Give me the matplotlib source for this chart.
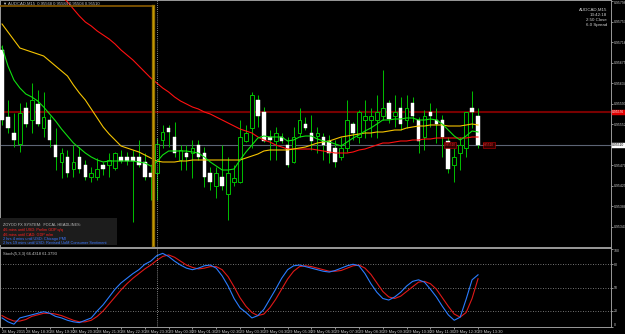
import numpy as np
import matplotlib
matplotlib.use("Agg")
import matplotlib.pyplot as plt
import matplotlib.transforms as mtransforms
from matplotlib.patches import Rectangle

plt.rcParams['font.family'] = ['Liberation Sans', 'DejaVu Sans']

# ---------------- data ----------------
symbol = "AUDCAD,M15"
opens = [0.95700,0.95566,0.95534,0.95512,0.95584,0.95560,0.95592,0.95544,0.95560,0.95510,
         0.95476,0.95486,0.95462,0.95486,0.95470,0.95446,0.95446,0.95470,0.95470,0.95464,
         0.95486,0.95486,0.95486,0.95486,0.95476,0.95454,0.95454,0.95520,0.95544,0.95526,
         0.95480,0.95494,0.95494,0.95510,0.95494,0.95454,0.95428,0.95446,0.95412,0.95436,
         0.95436,0.95518,0.95544,0.95600,0.95576,0.95526,0.95518,0.95526,0.95510,0.95476,
         0.95534,0.95552,0.95534,0.95528,0.95526,0.95518,0.95504,0.95486,0.95504,0.95552,
         0.95526,0.95560,0.95560,0.95560,0.95568,0.95594,0.95568,0.95584,0.95560,0.95594,
         0.95560,0.95526,0.95576,0.95560,0.95560,0.95518,0.95470,0.95494,0.95504,0.95584,
         0.95568]
highs = [0.95710,0.95600,0.95574,0.95594,0.95596,0.95634,0.95620,0.95616,0.95568,0.95544,
         0.95504,0.95500,0.95510,0.95506,0.95480,0.95466,0.95484,0.95476,0.95494,0.95496,
         0.95500,0.95496,0.95500,0.95520,0.95494,0.95470,0.95524,0.95550,0.95550,0.95556,
         0.95510,0.95510,0.95520,0.95520,0.95506,0.95466,0.95466,0.95510,0.95486,0.95470,
         0.95560,0.95550,0.95616,0.95610,0.95586,0.95540,0.95546,0.95534,0.95526,0.95546,
         0.95584,0.95566,0.95570,0.95546,0.95534,0.95530,0.95520,0.95526,0.95600,0.95556,
         0.95580,0.95600,0.95584,0.95610,0.95660,0.95600,0.95610,0.95606,0.95610,0.95606,
         0.95566,0.95580,0.95594,0.95584,0.95570,0.95526,0.95504,0.95526,0.95576,0.95618,
         0.95584]
lows = [0.95550,0.95534,0.95506,0.95496,0.95546,0.95534,0.95548,0.95526,0.95506,0.95460,
        0.95444,0.95446,0.95446,0.95454,0.95440,0.95436,0.95440,0.95450,0.95446,0.95460,
        0.95474,0.95470,0.95356,0.95466,0.95440,0.95400,0.95400,0.95504,0.95506,0.95486,
        0.95460,0.95460,0.95444,0.95480,0.95426,0.95420,0.95404,0.95420,0.95360,0.95428,
        0.95434,0.95516,0.95504,0.95546,0.95516,0.95480,0.95480,0.95514,0.95466,0.95474,
        0.95526,0.95540,0.95500,0.95494,0.95480,0.95474,0.95466,0.95480,0.95496,0.95520,
        0.95514,0.95524,0.95526,0.95524,0.95560,0.95554,0.95546,0.95540,0.95544,0.95556,
        0.95494,0.95500,0.95546,0.95514,0.95486,0.95454,0.95436,0.95460,0.95486,0.95544,
        0.95504]
closes = [0.95560,0.95544,0.95520,0.95574,0.95552,0.95600,0.95552,0.95566,0.95520,0.95486,
          0.95494,0.95454,0.95476,0.95462,0.95446,0.95454,0.95462,0.95462,0.95480,0.95494,
          0.95478,0.95478,0.95478,0.95470,0.95446,0.95446,0.95512,0.95536,0.95536,0.95494,
          0.95500,0.95486,0.95504,0.95486,0.95446,0.95436,0.95454,0.95428,0.95454,0.95444,
          0.95526,0.95534,0.95610,0.95568,0.95518,0.95520,0.95534,0.95518,0.95470,0.95526,
          0.95560,0.95544,0.95518,0.95534,0.95510,0.95494,0.95476,0.95504,0.95560,0.95534,
          0.95576,0.95568,0.95568,0.95576,0.95584,0.95562,0.95576,0.95552,0.95584,0.95568,
          0.95518,0.95568,0.95568,0.95552,0.95526,0.95462,0.95486,0.95510,0.95576,0.95576,
          0.95510]

ma_fast = [0.95706,0.95668,0.95640,0.95624,0.95612,0.95606,0.95598,0.95586,0.95572,0.95558,
           0.95542,0.95528,0.95514,0.95504,0.95494,0.95486,0.95480,0.95476,0.95478,0.95478,
           0.95478,0.95478,0.95478,0.95476,0.95474,0.95468,0.95476,0.95490,0.95498,0.95498,
           0.95498,0.95498,0.95496,0.95494,0.95486,0.95476,0.95468,0.95460,0.95460,0.95462,
           0.95480,0.95496,0.95510,0.95524,0.95528,0.95526,0.95526,0.95526,0.95518,0.95520,
           0.95526,0.95528,0.95528,0.95522,0.95518,0.95516,0.95512,0.95508,0.95516,0.95524,
           0.95530,0.95538,0.95544,0.95552,0.95560,0.95560,0.95562,0.95562,0.95564,0.95564,
           0.95560,0.95560,0.95562,0.95560,0.95552,0.95540,0.95528,0.95520,0.95528,0.95538,
           0.95536]
ma_mid = [0.95752,0.95736,0.95720,0.95704,0.95700,0.95696,0.95692,0.95688,0.95678,0.95668,
          0.95658,0.95648,0.95630,0.95614,0.95600,0.95582,0.95564,0.95546,0.95532,0.95520,
          0.95508,0.95504,0.95500,0.95496,0.95490,0.95484,0.95478,0.95476,0.95476,0.95476,
          0.95478,0.95478,0.95480,0.95480,0.95480,0.95480,0.95480,0.95480,0.95480,0.95480,
          0.95480,0.95484,0.95488,0.95492,0.95498,0.95500,0.95500,0.95500,0.95500,0.95502,
          0.95504,0.95506,0.95510,0.95514,0.95516,0.95518,0.95522,0.95526,0.95528,0.95530,
          0.95532,0.95534,0.95534,0.95536,0.95536,0.95538,0.95540,0.95540,0.95544,0.95546,
          0.95548,0.95548,0.95550,0.95550,0.95550,0.95548,0.95548,0.95548,0.95550,0.95552,
          0.95550]
nan = float('nan')
ma_slow = [nan,nan,nan,nan,nan,nan,nan,nan,nan,nan,
           0.95808,0.95796,0.95782,0.95768,0.95756,0.95748,0.95738,0.95730,0.95722,0.95712,
           0.95700,0.95690,0.95680,0.95668,0.95656,0.95644,0.95634,0.95624,0.95616,0.95606,
           0.95598,0.95592,0.95586,0.95582,0.95576,0.95572,0.95566,0.95560,0.95554,0.95548,
           0.95542,0.95538,0.95534,0.95526,0.95520,0.95516,0.95510,0.95506,0.95502,0.95502,
           0.95502,0.95502,0.95502,0.95500,0.95498,0.95496,0.95494,0.95494,0.95494,0.95496,
           0.95500,0.95502,0.95506,0.95510,0.95514,0.95514,0.95516,0.95518,0.95518,0.95520,
           0.95520,0.95522,0.95522,0.95524,0.95524,0.95524,0.95524,0.95524,0.95524,0.95526,
           0.95526]

stoch_main = [11,6,3,11,13,15,17,19,17,13,
              11,8,6,5,8,11,20,28,38,48,
              56,62,68,73,80,84,91,94,90,84,
              79,75,73,75,78,79,75,65,52,36,
              24,18,11,14,22,35,48,62,73,78,
              79,77,75,73,71,70,72,75,78,80,
              78,68,55,44,36,34,38,44,52,58,
              60,57,48,38,26,15,8,12,35,60,
              66.4318]
stoch_signal = [14,10,7,7,9,13,15,17,17,16,
                14,11,8,6,6,8,13,20,29,38,
                47,55,62,68,74,79,85,90,92,89,
                84,79,76,74,75,77,77,73,64,51,
                37,26,18,14,16,24,35,48,61,71,
                77,78,77,75,73,71,71,72,75,78,
                79,75,67,56,45,38,36,39,45,51,
                57,58,55,48,37,26,16,12,18,36,
                61.3793]

resistance_level = 0.95576
bid_price = 0.95510
range_top = 0.95788
range_end_bar = 25.3
day_separator_bar = 26

price_ticks = [0.95798, 0.95757, 0.95716, 0.95675, 0.95634, 0.95593, 0.95552,
               0.95511, 0.95470, 0.95429, 0.95388, 0.95347]
price_labels = ["0.95798", "0.95757", "0.95716", "0.95675", "0.95634", "0.95593", "0.95552",
                "", "0.95470", "0.95429", "0.95388", "0.95347"]
stoch_ticks = [100, 80, 50, 20, 0]
stoch_labels = ["100", "80", "50", "20", "0"]
stoch_levels = [80, 50, 20]

time_labels = ["28 May 2015", "28 May 18:30", "28 May 19:30", "28 May 20:30", "28 May 21:30",
               "28 May 22:30", "28 May 23:30", "29 May 00:30", "29 May 01:30", "29 May 02:30",
               "29 May 03:30", "29 May 04:30", "29 May 05:30", "29 May 06:30", "29 May 07:30",
               "29 May 08:30", "29 May 09:30", "29 May 10:30", "29 May 11:30", "29 May 12:30",
               "29 May 13:30"]

info_lines = ["AUDCAD,M15", "13:42:18", "2:50 Close", "6.0 Spread"]
news_header = "ZOYOO FX SYSTEM:  FOCAL HEADLINES:"
news_red = ["46 mins until USD: Prelim GDP q/q", "46 mins until CAD: GDP m/m"]
news_blue = ["2 hrs 4 mins until USD: Chicago PMI",
             "2 hrs 19 mins until USD: Revised UoM Consumer Sentiment"]

# ---------------- figure ----------------
W, H = 625, 334
fig = plt.figure(figsize=(W / 100, H / 100), dpi=100, facecolor='black')


def fx(x):
    return x / W


def fy(y):
    return 1 - y / H


ax = fig.add_axes([0, fy(247), fx(611), 247 / H])
ax2 = fig.add_axes([0, fy(327), fx(611), (327 - 248) / H])
for a in (ax, ax2):
    a.set_facecolor('black')
    for s in a.spines.values():
        s.set_color('#9a9a9a')
        s.set_linewidth(0.7)
    a.set_xlim(-0.34, 102.35)

ax.set_ylim(0.95306, 0.95800)
ax2.set_ylim(-0.64, 100.9)

x = np.arange(len(closes))
o = np.array(opens)
c = np.array(closes)
h = np.array(highs)
l = np.array(lows)
up = c >= o
green = '#00c000'

# horizontal lines
ax.axhline(resistance_level, color='#780000', lw=1.5, zorder=1)
ax.axhline(bid_price, color='#5c6474', lw=0.8, zorder=1)

# candles
ax.vlines(x, l, h, color=green, lw=0.7, zorder=2)
ax.bar(x[up], np.maximum((c - o)[up], 0.000015), bottom=o[up], width=0.6,
       color='black', edgecolor=green, linewidth=0.7, zorder=3)
ax.bar(x[~up], (o - c)[~up], bottom=c[~up], width=0.6,
       color='white', edgecolor='white', linewidth=0.3, zorder=3)

# moving averages
ax.plot(x, ma_slow, color='#ff1010', lw=0.8, zorder=4)
ax.plot(x, ma_mid, color='#f5c400', lw=0.8, zorder=4)
ax.plot(x, ma_fast, color='#10e010', lw=0.8, zorder=5)

# range object (top edge + right edge)
ax.plot([-0.34, range_end_bar], [range_top, range_top], color='#8c5c00', lw=1.2, zorder=6)
ax.plot([range_end_bar, range_end_bar], [0.95310, range_top], color='#967000', lw=2.4, zorder=6)
ax.plot([range_end_bar, range_end_bar], [0.95310, range_top], color='#c8a000', lw=0.6, zorder=6)

# day separator
for a in (ax, ax2):
    a.axvline(day_separator_bar, color='#b0b0b0', lw=0.6, ls=(0, (1, 1.5)), zorder=6)

# price axis
ax.yaxis.tick_right()
ax.set_yticks(price_ticks)
ax.set_yticklabels(price_labels)
ax.set_xticks([])
ax.tick_params(axis='y', colors='#c8c8c8', labelsize=2.5, length=1.2, width=0.5, pad=0.6)
ax.get_yticklabels()[0].set_va('top')

trans = mtransforms.blended_transform_factory(ax.transAxes, ax.transData)
ax.text(1.002, resistance_level, f"{resistance_level:.5f}", transform=trans, fontsize=2.4,
        color='white', va='center', ha='left', clip_on=False, zorder=10,
        bbox=dict(boxstyle='square,pad=0.15', fc='#e00000', ec='#e00000', lw=0.3))
ax.text(1.002, bid_price, f"{bid_price:.5f}", transform=trans, fontsize=2.4,
        color='black', va='center', ha='left', clip_on=False, zorder=10,
        bbox=dict(boxstyle='square,pad=0.15', fc='white', ec='white', lw=0.3))

# small price tags near the bid line
for b in (75.3, 81.8):
    ax.text(b, bid_price, f"{bid_price:.5f}", fontsize=2.2, color='#ff3030', ha='center',
            va='center', zorder=7,
            bbox=dict(boxstyle='square,pad=0.25', fc='#300000', ec='#c00000', lw=0.4))

# stochastic
for lev in stoch_levels:
    ax2.axhline(lev, color='#9a9a9a', lw=0.6, ls=(0, (1, 2)), zorder=1)
ax2.plot(x, stoch_signal, color='#e01818', lw=0.8, zorder=3)
ax2.plot(x, stoch_main, color='#2a7cff', lw=0.8, zorder=4)
ax2.yaxis.tick_right()
ax2.set_yticks(stoch_ticks)
ax2.set_yticklabels(stoch_labels)
ax2.set_xticks(list(range(0, len(closes), 4)))
ax2.set_xticklabels(time_labels)
ax2.tick_params(axis='y', colors='#c8c8c8', labelsize=2.5, length=1.2, width=0.5, pad=0.6)
ax2.tick_params(axis='x', colors='#c8c8c8', labelsize=2.9, length=1.5, width=0.5, pad=0.6)
ylabs = ax2.get_yticklabels()
ylabs[0].set_va('top')
ylabs[-1].set_va('bottom')
for t in ax2.get_xticklabels():
    t.set_ha('left')
ax2.text(0.005, 0.93, f"Stoch(5,3,3) {stoch_main[-1]:.4f} {stoch_signal[-1]:.4f}",
         transform=ax2.transAxes, fontsize=3.0, color='#c8c8c8', va='center', ha='left')

# title & info
fig.text(fx(3), fy(4), f"\u25bc {symbol}  {opens[-1]:.5f} {highs[-1]:.5f} {lows[-1]:.5f} {closes[-1]:.5f}",
         fontsize=3.0, color='#c8c8c8', va='center', ha='left')
for i, line in enumerate(info_lines):
    fig.text(fx(607), fy(10 + 5 * i), line, fontsize=3.2, color='#d0d0d0', va='center', ha='right')

# news box
fig.add_artist(Rectangle((0, fy(245)), fx(117), (245 - 218) / H, transform=fig.transFigure,
                         fc='#1c1c1c', ec='none', zorder=1))
fig.text(fx(3), fy(225.3), news_header, fontsize=2.8, color='#c0c0c0', va='center', ha='left')
yy = 230
for line in news_red:
    fig.text(fx(3), fy(yy), line, fontsize=2.8, color='#ff2020', va='center', ha='left')
    yy += 4.5
for line in news_blue:
    fig.text(fx(3), fy(yy), line, fontsize=2.8, color='#3c78ff', va='center', ha='left')
    yy += 4.3

fig.savefig("out.png", dpi=100, facecolor='black')
